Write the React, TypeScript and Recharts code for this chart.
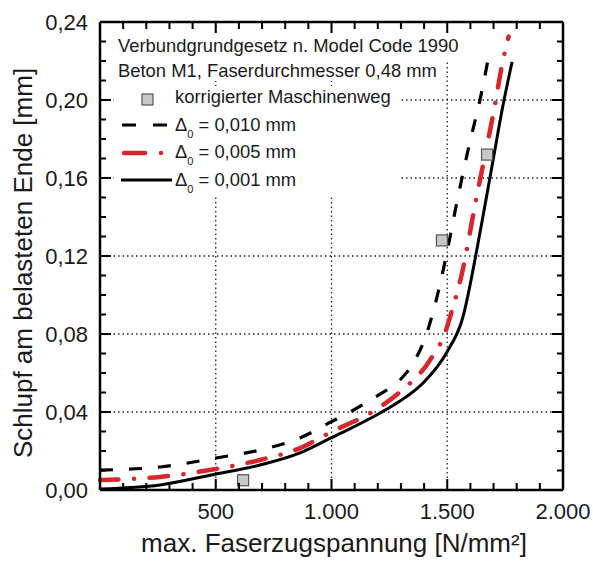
import React from 'react';
import {
  ComposedChart,
  Line,
  Scatter,
  XAxis,
  YAxis,
  CartesianGrid,
} from 'recharts';

// Faserzugspannung [N/mm²] / Schlupf [mm] for the three Δ0 variants
const sigmaD010 = [0, 259, 501, 691, 864, 998, 1080, 1210, 1296, 1361, 1404, 1447, 1490, 1542, 1590, 1646, 1676];
const slipD010 = [0.0102, 0.0118, 0.0164, 0.0205, 0.0267, 0.0349, 0.04, 0.0492, 0.0564, 0.0667, 0.0779, 0.0949, 0.1169, 0.1477, 0.1744, 0.2026, 0.2205];

const sigmaD005 = [0, 259, 501, 691, 864, 998, 1175, 1296, 1426, 1490, 1521, 1564, 1624, 1659, 1702, 1741, 1765];
const slipD005 = [0.0051, 0.0067, 0.0108, 0.0154, 0.0215, 0.0297, 0.04, 0.0503, 0.0667, 0.0805, 0.0923, 0.1113, 0.1487, 0.1692, 0.1949, 0.2205, 0.2325];

const sigmaD001 = [0, 259, 501, 691, 864, 998, 1218, 1296, 1400, 1499, 1564, 1642, 1698, 1741, 1780];
const slipD001 = [0.0005, 0.0026, 0.0082, 0.0128, 0.019, 0.0267, 0.04, 0.0456, 0.0554, 0.0708, 0.0872, 0.1323, 0.1692, 0.1974, 0.2195];

// korrigierter Maschinenweg
const sigmaMess = [618, 1477, 1672];
const slipMess = [0.005, 0.128, 0.172];

const xMajorTicks = [500, 1000, 1500, 2000];
const xMajorLabels = ['500', '1.000', '1.500', '2.000'];
const xMinorTicks = [0, 100, 200, 300, 400, 500, 600, 700, 800, 900, 1000, 1100, 1200, 1300, 1400, 1500, 1600, 1700, 1800, 1900, 2000];

const yMajorTicks = [0, 0.04, 0.08, 0.12, 0.16, 0.2, 0.24];
const yMajorLabels = ['0,00', '0,04', '0,08', '0,12', '0,16', '0,20', '0,24'];
const yMinorTicks = [0, 0.01, 0.02, 0.03, 0.04, 0.05, 0.06, 0.07, 0.08, 0.09, 0.1, 0.11, 0.12, 0.13, 0.14, 0.15, 0.16, 0.17, 0.18, 0.19, 0.2, 0.21, 0.22, 0.23, 0.24];

const gridX = [500, 1000, 1500];
const gridY = [0.04, 0.08, 0.12, 0.16, 0.2];

const X_MIN = 0;
const X_MAX = 2000;
const Y_MIN = 0;
const Y_MAX = 0.24;

// chart box: margins + axis sizes put the plot at x 100..563, y 22..490
const W = 593;
const H = 563;
const MARGIN = { top: 2, right: 10, bottom: 33, left: 40 };
const AX_BOTTOM = 40;
const AX_TOP = 20;
const AX_LEFT = 60;
const AX_RIGHT = 20;
const PLOT = {
  left: MARGIN.left + AX_LEFT,
  top: MARGIN.top + AX_TOP,
  right: W - MARGIN.right - AX_RIGHT,
  bottom: H - MARGIN.bottom - AX_BOTTOM,
};

const zip = (xs: number[], ys: number[]) => xs.map((x, i) => ({ x, y: ys[i] }));

const dataD010 = zip(sigmaD010, slipD010);
const dataD005 = zip(sigmaD005, slipD005);
const dataD001 = zip(sigmaD001, slipD001);
const dataMess = zip(sigmaMess, slipMess);

const FONT = '"Liberation Sans", Arial, sans-serif';
const RED = '#d9262c';
const TEXT = '#1a1a1a';

const majorIndex = (list: number[], v: number) => list.findIndex((t) => Math.abs(t - v) < 1e-9);

const BottomTick = (props: any) => {
  const { x, y, payload } = props;
  const i = majorIndex(xMajorTicks, payload.value);
  if (i < 0) return <g />;
  return (
    <text x={x} y={y + 29} textAnchor="middle" fontSize={22} fontFamily={FONT} fill={TEXT}>
      {xMajorLabels[i]}
    </text>
  );
};

const LeftTick = (props: any) => {
  const { x, y, payload } = props;
  const i = majorIndex(yMajorTicks, payload.value);
  if (i < 0) return <g />;
  return (
    <text x={x - 12} y={y} dy="0.36em" textAnchor="end" fontSize={22} fontFamily={FONT} fill={TEXT}>
      {yMajorLabels[i]}
    </text>
  );
};

const NoLabel = () => <g />;

const SquareMark = (props: any) => {
  const { cx, cy } = props;
  return <rect x={cx - 5.5} y={cy - 5.5} width={11} height={11} fill="#c8c8c8" stroke="#555" strokeWidth={1.2} />;
};

const frame = { stroke: '#000', strokeWidth: 2.5 };

// inward tick marks on all four sides of the frame
function FrameTicks() {
  const sx = (v: number) => PLOT.left + ((v - X_MIN) / (X_MAX - X_MIN)) * (PLOT.right - PLOT.left);
  const sy = (v: number) => PLOT.bottom - ((v - Y_MIN) / (Y_MAX - Y_MIN)) * (PLOT.bottom - PLOT.top);
  const d: string[] = [];
  xMinorTicks.forEach((v) => {
    const len = majorIndex(xMajorTicks, v) >= 0 ? 11 : 7;
    const x = sx(v);
    d.push(`M${x},${PLOT.bottom}V${PLOT.bottom - len}`, `M${x},${PLOT.top}V${PLOT.top + len}`);
  });
  yMinorTicks.forEach((v) => {
    const len = majorIndex(yMajorTicks, v) >= 0 ? 11 : 6;
    const y = sy(v);
    d.push(`M${PLOT.left},${y}H${PLOT.left + len}`, `M${PLOT.right},${y}H${PLOT.right - len}`);
  });
  return <path d={d.join('')} stroke="#000" strokeWidth={2} fill="none" />;
}

function Annotations() {
  const txt = { fontSize: 18.4, fontFamily: FONT, fill: TEXT };
  const delta = (y: number, value: string) => (
    <text x={175} y={y} {...txt}>
      Δ
      <tspan fontSize={11} dy={7}>0</tspan>
      <tspan dy={-7}>{` = ${value}`}</tspan>
    </text>
  );
  return (
    <svg width={W} height={H} style={{ position: 'absolute', left: 0, top: 0, pointerEvents: 'none' }}>
      <FrameTicks />
      <rect x={116} y={34} width={350} height={26} fill="#fff" />
      <rect x={116} y={60} width={328} height={21} fill="#fff" />
      <rect x={114} y={86} width={287} height={111} fill="#fff" />
      <text x={118} y={52} {...txt}>Verbundgrundgesetz n. Model Code 1990</text>
      <text x={118} y={77} {...txt}>Beton M1, Faserdurchmesser 0,48 mm</text>

      <rect x={142} y={94} width={11} height={11} fill="#c8c8c8" stroke="#555" strokeWidth={1.2} />
      <text x={175} y={103} {...txt}>korrigierter Maschinenweg</text>

      <line x1={122} x2={168} y1={125} y2={125} stroke="#000" strokeWidth={3.2} strokeDasharray="14 17" />
      {delta(131, '0,010 mm')}

      <line x1={124} x2={162} y1={153} y2={153} stroke={RED} strokeWidth={4.5} strokeLinecap="round" strokeDasharray="21 16 0.1 30" />
      {delta(158, '0,005 mm')}

      <line x1={121} x2={172} y1={180} y2={180} stroke="#000" strokeWidth={3} />
      {delta(186, '0,001 mm')}

      <text x={334} y={552} textAnchor="middle" fontSize={26} fontFamily={FONT} fill={TEXT}>
        max. Faserzugspannung [N/mm²]
      </text>
      <text
        x={32}
        y={263}
        transform="rotate(-90 32 263)"
        textAnchor="middle"
        fontSize={26}
        fontFamily={FONT}
        fill={TEXT}
      >
        Schlupf am belasteten Ende [mm]
      </text>
    </svg>
  );
}

export default function App() {
  return (
    <div style={{ position: 'absolute', left: 0, top: 0, width: W, height: H, background: '#fff' }}>
      <ComposedChart width={W} height={H} margin={MARGIN}>
        <CartesianGrid
          horizontal
          vertical
          horizontalValues={gridY}
          verticalValues={gridX}
          stroke="#222"
          strokeWidth={1.3}
          strokeDasharray="1.5 3"
        />
        <XAxis
          dataKey="x"
          type="number"
          domain={[X_MIN, X_MAX]}
          ticks={xMinorTicks}
          interval={0}
          tickLine={false}
          tickSize={0}
          tickMargin={0}
          height={AX_BOTTOM}
          axisLine={frame}
          tick={<BottomTick />}
        />
        <XAxis
          xAxisId="top"
          orientation="top"
          type="number"
          domain={[X_MIN, X_MAX]}
          ticks={xMinorTicks}
          interval={0}
          tickLine={false}
          height={AX_TOP}
          axisLine={frame}
          tick={<NoLabel />}
        />
        <YAxis
          dataKey="y"
          type="number"
          domain={[Y_MIN, Y_MAX]}
          ticks={yMinorTicks}
          interval={0}
          tickLine={false}
          tickSize={0}
          tickMargin={0}
          width={AX_LEFT}
          axisLine={frame}
          tick={<LeftTick />}
        />
        <YAxis
          yAxisId="right"
          orientation="right"
          type="number"
          domain={[Y_MIN, Y_MAX]}
          ticks={yMinorTicks}
          interval={0}
          tickLine={false}
          width={AX_RIGHT}
          axisLine={frame}
          tick={<NoLabel />}
        />
        <Line
          data={dataD010}
          dataKey="y"
          type="monotone"
          stroke="#000"
          strokeWidth={3.2}
          strokeDasharray="13 16"
          dot={false}
          isAnimationActive={false}
        />
        <Line
          data={dataD005}
          dataKey="y"
          type="monotone"
          stroke={RED}
          strokeWidth={4.5}
          strokeLinecap="round"
          strokeDasharray="18.5 15.5 0.1 15.5"
          dot={false}
          isAnimationActive={false}
        />
        <Line
          data={dataD001}
          dataKey="y"
          type="monotone"
          stroke="#000"
          strokeWidth={3}
          dot={false}
          isAnimationActive={false}
        />
        <Scatter data={dataMess} dataKey="y" shape={<SquareMark />} isAnimationActive={false} />
      </ComposedChart>
      <Annotations />
    </div>
  );
}
